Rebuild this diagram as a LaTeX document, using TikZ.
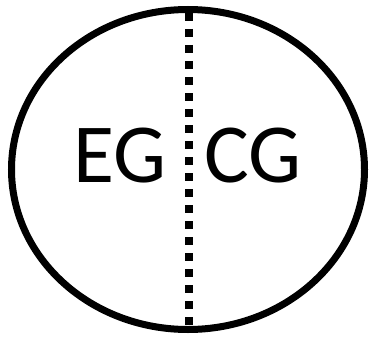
\documentclass[tikz,border=0pt]{standalone}
\usepackage{fontspec}
\setmainfont{Carlito}
\usepackage{tikz}
\usetikzlibrary{positioning, calc}

\begin{document}
\begin{tikzpicture}[x=1pt, y=-1pt]
        \useasboundingbox (0,0) rectangle (369,337);
        % Draw outline
        \draw[line width=7pt] (188,169.5) ellipse [x radius=176.5, y radius=160];
        
        % Draw divider
        \coordinate (top) at (189,13);
        \coordinate (bottom) at (189,326);
        \draw[line width=8pt, dash pattern=on 8pt off 8pt] (top) -- (bottom);
        
        % Draw labels
        \node[font=\fontsize{84}{84}\selectfont, inner sep=0pt, anchor=base] (eg) at (120,182) {EG};
        \node[font=\fontsize{84}{84}\selectfont, inner sep=0pt, anchor=base] (cg) at (253,182) {CG};
    \end{tikzpicture}
\end{document}
